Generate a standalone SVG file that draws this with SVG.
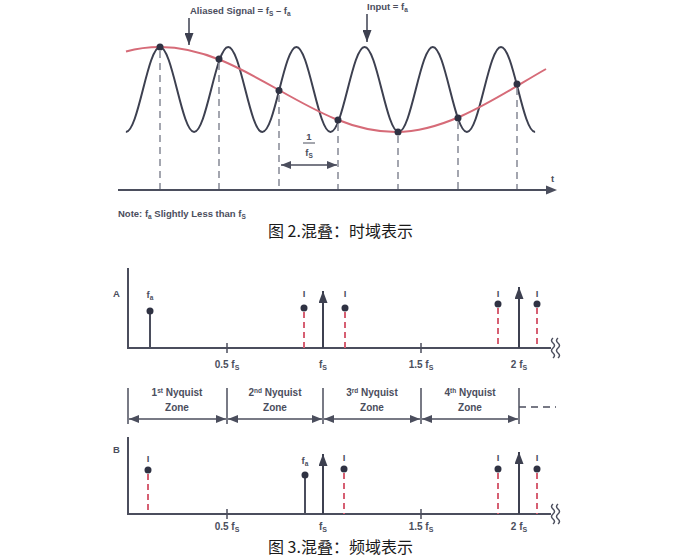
<svg xmlns="http://www.w3.org/2000/svg" width="681" height="557" viewBox="0 0 681 557">
<style>
.lbl{font-family:"Liberation Sans",Arial,sans-serif;font-weight:bold;font-size:9.5px;fill:#4b4e5d}
.tk{font-size:10px;text-anchor:middle}
.mid{text-anchor:middle}
.zn{font-size:10px;text-anchor:middle}
.cap{font-family:"Noto Sans CJK SC","Noto Sans",sans-serif;font-size:16px;fill:#1a1a1a}
.ax{stroke:#4b4e5d;stroke-width:2;fill:none}
.thin{stroke:#4b4e5d;stroke-width:1.5;fill:none}
.gd{stroke:#8d909c;stroke-width:1.6;stroke-dasharray:7 5;fill:none}
.rd{stroke:#d65f72;stroke-width:2;stroke-dasharray:6 4;fill:none}
.dot{fill:#2f3243}
</style>
<defs>
<marker id="ha" viewBox="0 0 10 8" refX="10" refY="4" markerWidth="10" markerHeight="8" markerUnits="userSpaceOnUse" orient="auto-start-reverse"><path d="M0,0 L10,4 L0,8 z" fill="#4b4e5d"/></marker>
<marker id="hb" viewBox="0 0 12 9" refX="12" refY="4.5" markerWidth="12" markerHeight="9" markerUnits="userSpaceOnUse" orient="auto-start-reverse"><path d="M0,0 L12,4.5 L0,9 z" fill="#3d4050"/></marker>
</defs>
<rect width="681" height="557" fill="#ffffff"/>

<!-- Figure 2: time domain -->
<g id="time-waves">
<path d="M125.9,132 C138.3,132 147.6,47 160,47 S181.7,132 194.1,132 S215.8,47 228.2,47 S249.9,132 262.3,132 S284,47 296.4,47 S318.1,132 330.5,132 S352.2,47 364.6,47 S386.3,132 398.7,132 S420.4,47 432.8,47 S454.5,132 466.9,132 S488.6,47 501,47 S522.7,132 535.1,132" stroke="#3d4050" stroke-width="2" fill="none"/>
<path d="M126,51.5 C137,48.5 148,47 160,47 C246,47 310,132 396,132 C450,132 505,92 546,69" stroke="#d66b78" stroke-width="2" fill="none"/>
</g>
<g id="samples">
<line class="gd" x1="160" y1="51" x2="160" y2="190"/>
<line class="gd" x1="219" y1="63" x2="219" y2="190"/>
<line class="gd" x1="279" y1="95" x2="279" y2="190"/>
<line class="gd" x1="338" y1="124" x2="338" y2="190"/>
<line class="gd" x1="398" y1="136" x2="398" y2="190"/>
<line class="gd" x1="458" y1="122" x2="458" y2="190"/>
<line class="gd" x1="517" y1="88" x2="517" y2="190"/>
<circle class="dot" cx="160" cy="47" r="3.5"/>
<circle class="dot" cx="219" cy="59" r="3.5"/>
<circle class="dot" cx="279" cy="90.5" r="3.5"/>
<circle class="dot" cx="338" cy="120" r="3.5"/>
<circle class="dot" cx="398" cy="132" r="3.5"/>
<circle class="dot" cx="458" cy="118" r="3.5"/>
<circle class="dot" cx="517" cy="84" r="3.5"/>
</g>
<g id="time-axis">
<line class="ax" x1="118" y1="190" x2="548" y2="190"/>
<path d="M557,190 L546,185.5 L546,194.5 z" fill="#4b4e5d"/>
<text class="lbl" x="551" y="182" font-size="10">t</text>
</g>
<g id="label-aliased">
<line x1="189" y1="18" x2="189" y2="45" stroke="#3d4050" stroke-width="1.5" marker-end="url(#hb)"/>
<text class="lbl" x="190" y="14">Aliased Signal = f<tspan font-size="6.5" dy="2">S</tspan><tspan dy="-2"> – f</tspan><tspan font-size="6.5" dy="2">a</tspan></text>
</g>
<g id="label-input">
<line x1="367" y1="14" x2="367" y2="42" stroke="#3d4050" stroke-width="1.5" marker-end="url(#hb)"/>
<text class="lbl" x="367" y="10">Input = f<tspan font-size="6.5" dy="2">a</tspan></text>
</g>
<g id="period">
<text class="lbl mid" x="309" y="140">1</text>
<line x1="303" y1="143" x2="315" y2="143" stroke="#4b4e5d" stroke-width="1"/>
<text class="lbl mid" x="309" y="156">f<tspan font-size="6.5" dy="2">S</tspan></text>
<line class="thin" x1="281" y1="165" x2="337" y2="165" marker-start="url(#ha)" marker-end="url(#ha)"/>
</g>
<text class="lbl" x="118" y="217" fill="#5a5d6b">Note: f<tspan font-size="6.5" dy="2">a</tspan><tspan dy="-2"> Slightly Less than f</tspan><tspan font-size="6.5" dy="2">S</tspan></text>
<text class="cap" x="268" y="237">图 2.混叠：时域表示</text>

<!-- Figure 3 A -->
<g id="chart-a-axes">
<line class="ax" x1="128" y1="268" x2="128" y2="348"/>
<line class="ax" x1="127" y1="348" x2="551" y2="348"/>
<line class="thin" x1="227" y1="343" x2="227" y2="353"/>
<line class="thin" x1="421" y1="343" x2="421" y2="353"/>
<path d="M553,338 q-3,2.5 0,5 t0,5 t0,5 t0,5 M558,338 q-3,2.5 0,5 t0,5 t0,5 t0,5" class="thin"/>
<text class="lbl" x="113" y="297">A</text>
<text class="lbl tk" x="227" y="368">0.5 f<tspan font-size="7" dy="2">S</tspan></text>
<text class="lbl tk" x="323" y="368">f<tspan font-size="7" dy="2">S</tspan></text>
<text class="lbl tk" x="421" y="368">1.5 f<tspan font-size="7" dy="2">S</tspan></text>
<text class="lbl tk" x="519" y="368">2 f<tspan font-size="7" dy="2">S</tspan></text>
</g>
<g id="chart-a-signals">
<line class="ax" x1="150" y1="348" x2="150" y2="311"/>
<circle class="dot" cx="150" cy="311" r="3.5"/>
<text class="lbl mid" x="150" y="298">f<tspan font-size="6.5" dy="2">a</tspan></text>
<line x1="323" y1="348" x2="323" y2="291" stroke="#3d4050" stroke-width="2" marker-end="url(#hb)"/>
<line x1="519" y1="348" x2="519" y2="287" stroke="#3d4050" stroke-width="2" marker-end="url(#hb)"/>
<line class="rd" x1="304" y1="312" x2="304" y2="348"/>
<circle class="dot" cx="304" cy="308" r="3.5"/>
<text class="lbl mid" x="304" y="297">I</text>
<line class="rd" x1="345" y1="312" x2="345" y2="348"/>
<circle class="dot" cx="345" cy="308" r="3.5"/>
<text class="lbl mid" x="345" y="297">I</text>
<line class="rd" x1="498" y1="308" x2="498" y2="348"/>
<circle class="dot" cx="498" cy="304" r="3.5"/>
<text class="lbl mid" x="498" y="297">I</text>
<line class="rd" x1="537" y1="308" x2="537" y2="348"/>
<circle class="dot" cx="537" cy="304" r="3.5"/>
<text class="lbl mid" x="537" y="297">I</text>
</g>

<!-- Nyquist zones -->
<g id="zones">
<line class="thin" x1="128" y1="388" x2="128" y2="424"/>
<line class="thin" x1="227" y1="388" x2="227" y2="424"/>
<line class="thin" x1="323" y1="388" x2="323" y2="424"/>
<line class="thin" x1="421" y1="388" x2="421" y2="424"/>
<line class="thin" x1="519" y1="388" x2="519" y2="424"/>
<line class="thin" x1="129" y1="419" x2="226" y2="419" marker-start="url(#ha)" marker-end="url(#ha)"/>
<line class="thin" x1="228" y1="419" x2="322" y2="419" marker-start="url(#ha)" marker-end="url(#ha)"/>
<line class="thin" x1="324" y1="419" x2="420" y2="419" marker-start="url(#ha)" marker-end="url(#ha)"/>
<line class="thin" x1="422" y1="419" x2="518" y2="419" marker-start="url(#ha)" marker-end="url(#ha)"/>
<line class="thin" x1="519" y1="407" x2="556" y2="407" stroke-dasharray="7 5"/>
<text class="lbl zn" x="177" y="396">1<tspan font-size="6.5" dy="-3.5">st</tspan><tspan dy="3.5"> Nyquist</tspan></text>
<text class="lbl zn" x="177" y="411">Zone</text>
<text class="lbl zn" x="275" y="396">2<tspan font-size="6.5" dy="-3.5">nd</tspan><tspan dy="3.5"> Nyquist</tspan></text>
<text class="lbl zn" x="275" y="411">Zone</text>
<text class="lbl zn" x="372" y="396">3<tspan font-size="6.5" dy="-3.5">rd</tspan><tspan dy="3.5"> Nyquist</tspan></text>
<text class="lbl zn" x="372" y="411">Zone</text>
<text class="lbl zn" x="470" y="396">4<tspan font-size="6.5" dy="-3.5">th</tspan><tspan dy="3.5"> Nyquist</tspan></text>
<text class="lbl zn" x="470" y="411">Zone</text>
</g>

<!-- Figure 3 B -->
<g id="chart-b-axes">
<line class="ax" x1="128" y1="437" x2="128" y2="514"/>
<line class="ax" x1="127" y1="514" x2="551" y2="514"/>
<line class="thin" x1="227" y1="509" x2="227" y2="519"/>
<line class="thin" x1="421" y1="509" x2="421" y2="519"/>
<path d="M553,504 q-3,2.5 0,5 t0,5 t0,5 t0,5 M558,504 q-3,2.5 0,5 t0,5 t0,5 t0,5" class="thin"/>
<text class="lbl" x="113" y="453">B</text>
<text class="lbl tk" x="227" y="530">0.5 f<tspan font-size="7" dy="2">S</tspan></text>
<text class="lbl tk" x="323" y="530">f<tspan font-size="7" dy="2">S</tspan></text>
<text class="lbl tk" x="421" y="530">1.5 f<tspan font-size="7" dy="2">S</tspan></text>
<text class="lbl tk" x="519" y="530">2 f<tspan font-size="7" dy="2">S</tspan></text>
</g>
<g id="chart-b-signals">
<line class="rd" x1="148" y1="474" x2="148" y2="514"/>
<circle class="dot" cx="148" cy="470" r="3.5"/>
<text class="lbl mid" x="148" y="462">I</text>
<line class="ax" x1="305" y1="514" x2="305" y2="475"/>
<circle class="dot" cx="305" cy="475" r="3.5"/>
<text class="lbl mid" x="305" y="464">f<tspan font-size="6.5" dy="2">a</tspan></text>
<line x1="323" y1="514" x2="323" y2="454" stroke="#3d4050" stroke-width="2" marker-end="url(#hb)"/>
<line x1="519" y1="514" x2="519" y2="452" stroke="#3d4050" stroke-width="2" marker-end="url(#hb)"/>
<line class="rd" x1="344" y1="473" x2="344" y2="514"/>
<circle class="dot" cx="344" cy="469" r="3.5"/>
<text class="lbl mid" x="344" y="461">I</text>
<line class="rd" x1="498" y1="473" x2="498" y2="514"/>
<circle class="dot" cx="498" cy="469" r="3.5"/>
<text class="lbl mid" x="498" y="461">I</text>
<line class="rd" x1="537" y1="473" x2="537" y2="514"/>
<circle class="dot" cx="537" cy="469" r="3.5"/>
<text class="lbl mid" x="537" y="461">I</text>
</g>
<text class="cap" x="268" y="553">图 3.混叠：频域表示</text>
</svg>
